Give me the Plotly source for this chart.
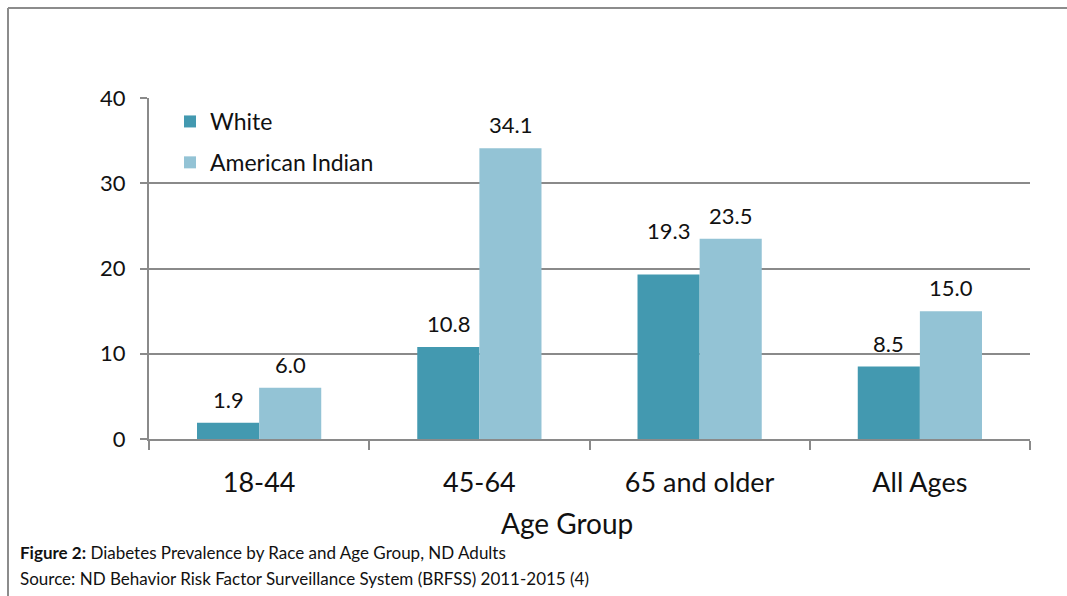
import plotly.graph_objects as go

# Diabetes prevalence (%) by age group, North Dakota adults
age_groups = ["18-44", "45-64", "65 and older", "All Ages"]
white = [1.9, 10.8, 19.3, 8.5]
american_indian = [6.0, 34.1, 23.5, 15.0]

y_ticks = [0, 10, 20, 30, 40]

FONT = "Lato, Carlito, Calibri, sans-serif"
GRID = "#8a8a8a"
DARK = "#4399B0"
LIGHT = "#93C3D5"
TEXT = "#111111"

L, R, T, B = 149, 1030, 98, 439
W, H = 1067, 596
pw, ph = R - L, B - T


def px_x(x):
    return (x - L) / pw


def px_y(y):
    return (B - y) / ph


fig = go.Figure()
fig.add_trace(go.Bar(
    x=age_groups, y=white, name="White", legendgroup="white",
    marker=dict(color=DARK, line=dict(width=0)),
))
fig.add_trace(go.Bar(
    x=age_groups, y=american_indian, name="American Indian", legendgroup="ai",
    marker=dict(color=LIGHT, line=dict(width=0)),
))

# Value labels above each bar (the 65+ White label sits a little higher)
bar_half = 31
label_lift = {("White", "65 and older"): 20}
for name, vals, side in (("White", white, -1), ("American Indian", american_indian, 1)):
    for cat, v in zip(age_groups, vals):
        fig.add_annotation(
            x=cat, y=v, xref="x", yref="y",
            xshift=side * bar_half, yshift=8 + label_lift.get((name, cat), 0),
            text=f"{v:.1f}", showarrow=False,
            xanchor="center", yanchor="bottom",
            font=dict(size=22, color=TEXT, family=FONT),
        )

fig.update_layout(
    width=W, height=H,
    margin=dict(l=L, r=W - R, t=T, b=H - B),
    paper_bgcolor="white", plot_bgcolor="white",
    barmode="group", bargap=0.436, bargroupgap=0,
    font=dict(family=FONT, color=TEXT),
    showlegend=True,
    legend=dict(
        x=px_x(170), y=px_y(100), xanchor="left", yanchor="top",
        bgcolor="rgba(0,0,0,0)", font=dict(size=23, family=FONT),
        itemwidth=30, tracegroupgap=8,
    ),
)

fig.update_xaxes(
    type="category", tickson="boundaries",
    ticks="outside", ticklen=9, tickwidth=2, tickcolor=GRID,
    showline=True, linecolor=GRID, linewidth=2,
    showgrid=False,
    tickfont=dict(size=27, family=FONT),
    ticklabelstandoff=19,
)

fig.update_yaxes(
    range=[0, 40], tickvals=y_ticks,
    ticks="outside", ticklen=7, tickwidth=2, tickcolor=GRID,
    showline=True, linecolor=GRID, linewidth=2,
    showgrid=True, gridcolor=GRID, gridwidth=2,
    zeroline=False,
    tickfont=dict(size=22, family=FONT),
    ticklabelstandoff=10,
)

# Outer frame (left and top edges)
fig.add_shape(type="line", xref="paper", yref="paper",
              x0=px_x(8), x1=px_x(1075), y0=px_y(8), y1=px_y(8),
              line=dict(color="#8c8c8c", width=2))
fig.add_shape(type="line", xref="paper", yref="paper",
              x0=px_x(8), x1=px_x(8), y0=px_y(8), y1=px_y(605),
              line=dict(color="#8c8c8c", width=2))

# Axis title
fig.add_annotation(
    text="Age Group", xref="paper", yref="paper",
    x=px_x(567), y=px_y(523), xanchor="center", yanchor="middle",
    showarrow=False, font=dict(size=28, family=FONT),
)

# Caption
fig.add_annotation(
    text="<b>Figure 2:</b> Diabetes Prevalence by Race and Age Group, ND Adults",
    xref="paper", yref="paper", x=px_x(18), y=px_y(552),
    xanchor="left", yanchor="middle", showarrow=False,
    font=dict(size=17, family=FONT),
)
fig.add_annotation(
    text="Source: ND Behavior Risk Factor Surveillance System (BRFSS) 2011-2015 (4)",
    xref="paper", yref="paper", x=px_x(18), y=px_y(578),
    xanchor="left", yanchor="middle", showarrow=False,
    font=dict(size=17, family=FONT),
)

fig.write_html("out.html")
